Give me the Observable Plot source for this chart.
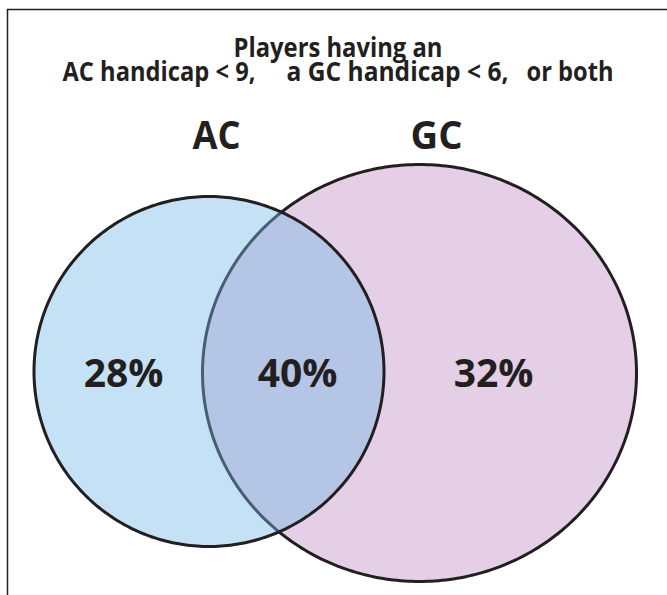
<!DOCTYPE html>
<html>
<head>
<meta charset="utf-8">
<script src="https://cdn.jsdelivr.net/npm/d3@7"></script>
<script src="https://cdn.jsdelivr.net/npm/@observablehq/plot@0.6"></script>
<style>
  html, body { margin: 0; padding: 0; background: #fff; }
  #chart { width: 667px; height: 595px; overflow: hidden; }
</style>
</head>
<body>
<div id="chart"></div>
<script>
// ---- Data ----
const titlePieces = ["Players having an", "AC handicap < 9,", "a GC handicap < 6,", "or both"];
const setNames = ["AC", "GC"];
const regionNames = ["AC only", "AC and GC", "GC only"];
const regionShares = [28, 40, 32];

// ---- Layout (geometry & style, in chart units) ----
const layout = {
  title: [
    {x: 233, y: 56, w: 209},
    {x: 62,  y: 80, w: 193},
    {x: 286, y: 80, w: 222},
    {x: 526, y: 80, w: 87}
  ],
  sets: [
    {cx: 208.5, cy: 371,   rx: 175, ry: 175,   fill: "rgb(117,184,231)", fillOpacity: 0.42},
    {cx: 419,   cy: 372.5, rx: 217, ry: 208.5, fill: "#e4cfe6",          fillOpacity: 1}
  ],
  setLabels: [{x: 216, y: 148, w: 48}, {x: 436, y: 148, w: 52}],
  regionLabels: [{x: 123, y: 386}, {x: 297, y: 386}, {x: 493, y: 386}]
};

const ink = "#231f20";
const font = "Open Sans, Noto Sans, sans-serif";

function outline(s, name) {
  const n = 360;
  return d3.range(n).map(i => {
    const t = (i / n) * 2 * Math.PI;
    return {set: name, x: s.cx + s.rx * Math.cos(t), y: s.cy + s.ry * Math.sin(t)};
  });
}

const titleData = titlePieces.map((t, i) => ({text: t, ...layout.title[i]}));
const setLabelData = setNames.map((t, i) => ({text: t, ...layout.setLabels[i]}));
const regionData = regionNames.map((r, i) => ({region: r, text: `${regionShares[i]}%`, ...layout.regionLabels[i]}));

// draw GC first, AC on top (translucent)
const setMarks = [1, 0].map(i => Plot.line(outline(layout.sets[i], setNames[i]), {
  x: "x", y: "y", curve: "linear-closed",
  fill: layout.sets[i].fill, fillOpacity: layout.sets[i].fillOpacity,
  stroke: ink, strokeWidth: 3
}));

const svg = Plot.plot({
  width: 667,
  height: 595,
  margin: 0,
  x: {domain: [0, 667], range: [0, 667], axis: null},
  y: {domain: [0, 595], range: [0, 595], axis: null},
  style: {fontFamily: font, background: "#fff"},
  marks: [
    Plot.ruleY([9], {x1: 7, x2: 667, stroke: ink, strokeWidth: 1.5}),
    Plot.ruleX([7], {y1: 9, y2: 595, stroke: ink, strokeWidth: 1.5}),
    ...setMarks,
    Plot.text(titleData, {x: "x", y: "y", text: "text", textAnchor: "start", lineAnchor: "bottom",
      fontSize: 26, fontWeight: "bold", fontFamily: font, fill: ink}),
    Plot.text(setLabelData, {x: "x", y: "y", text: "text", lineAnchor: "bottom",
      fontSize: 39, fontWeight: "bold", fontFamily: font, fill: ink}),
    Plot.text(regionData, {x: "x", y: "y", text: "text", lineAnchor: "bottom",
      fontSize: 39, fontWeight: "bold", fontFamily: font, fill: ink})
  ]
});

// fit condensed texts to their measured widths
d3.select(svg).selectAll("text").each(function() {
  const txt = this.textContent;
  let w = null;
  const i = titlePieces.indexOf(txt);
  if (i >= 0) w = layout.title[i].w;
  const j = setNames.indexOf(txt);
  if (j >= 0) w = layout.setLabels[j].w;
  if (w != null) {
    this.setAttribute("textLength", w);
    this.setAttribute("lengthAdjust", "spacingAndGlyphs");
  }
});

document.getElementById("chart").appendChild(svg);
</script>
</body>
</html>
